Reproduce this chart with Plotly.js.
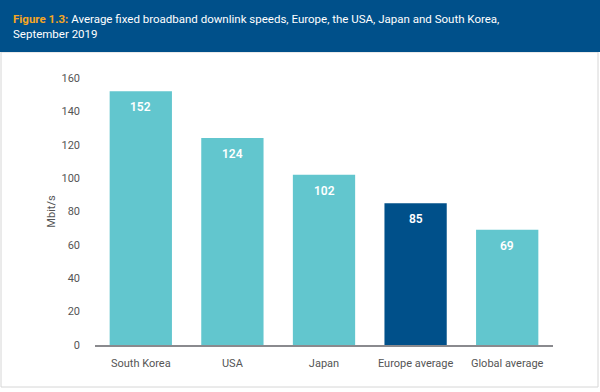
<!DOCTYPE html>
<html>
<head>
<meta charset="utf-8">
<script src="https://cdn.plot.ly/plotly-3.0.1.min.js"></script>
<style>html,body{margin:0;padding:0;background:#fff;}#chart{width:600px;height:392px;}</style>
</head>
<body>
<div id="chart"></div>
<script>
const categories = ["South Korea", "USA", "Japan", "Europe average", "Global average"];
const speeds = [152, 124, 102, 85, 69];
const barColors = ["#62C6CE", "#62C6CE", "#62C6CE", "#00508A", "#62C6CE"];
const yTicks = [0, 20, 40, 60, 80, 100, 120, 140, 160];

const W = 600, H = 392;
const L = 95, R = 553, T = 78, B = 345;
const px = x => (x - L) / (R - L);
const py = y => (B - y) / (B - T);

const fontFam = "Roboto, 'Liberation Sans', sans-serif";

const trace = {
  type: "bar",
  x: categories,
  y: speeds,
  marker: {color: barColors, line: {width: 0}},
  width: 0.68,
  hoverinfo: "none"
};

const valueLabels = categories.map((c, i) => ({
  xref: "x", yref: "y", x: c, y: speeds[i], yshift: -16,
  xanchor: "center", yanchor: "middle", showarrow: false,
  text: String(speeds[i]),
  font: {size: 12, color: "#ffffff", family: fontFam, weight: 600}
}));

const layout = {
  width: W, height: H,
  margin: {l: L, r: W - R, t: T, b: H - B, pad: 0},
  paper_bgcolor: "#ffffff",
  plot_bgcolor: "#ffffff",
  showlegend: false,
  font: {family: fontFam, color: "#555555", size: 11},
  xaxis: {
    range: [-0.5, 4.5],
    showgrid: false, zeroline: false,
    showline: true, linecolor: "#8a8a8e", linewidth: 2,
    ticks: "", ticklabelstandoff: 7,
    tickfont: {size: 11, color: "#555555", family: fontFam},
    fixedrange: true
  },
  yaxis: {
    range: [0, 160],
    tickvals: yTicks,
    ticktext: yTicks.map(String),
    showgrid: false, zeroline: false, showline: false,
    ticks: "", ticklabelstandoff: 14,
    tickfont: {size: 11, color: "#555555", family: fontFam},
    title: {text: "Mbit/s", font: {size: 11, color: "#555555", family: fontFam}, standoff: 3},
    fixedrange: true
  },
  shapes: [
    {type: "rect", xref: "paper", yref: "paper", layer: "below",
     x0: px(1), x1: px(598), y0: py(387), y1: py(52),
     line: {color: "#d6d6d6", width: 1}, fillcolor: "rgba(0,0,0,0)"},
    {type: "rect", xref: "paper", yref: "paper", layer: "below",
     x0: px(0), x1: px(600), y0: py(52), y1: py(0),
     line: {width: 0}, fillcolor: "#00508A"}
  ],
  annotations: valueLabels.concat([
    {xref: "paper", yref: "paper", x: px(11), y: py(10), xanchor: "left", yanchor: "top",
     align: "left", showarrow: false,
     text: "<span style='color:#F5A623'><b>Figure 1.3:</b></span> Average fixed broadband downlink speeds, Europe, the USA, Japan and South Korea,<br>September 2019",
     font: {size: 11.5, color: "#ffffff", family: fontFam}}
  ])
};

Plotly.newPlot("chart", [trace], layout, {displayModeBar: false, staticPlot: true});
</script>
</body>
</html>
